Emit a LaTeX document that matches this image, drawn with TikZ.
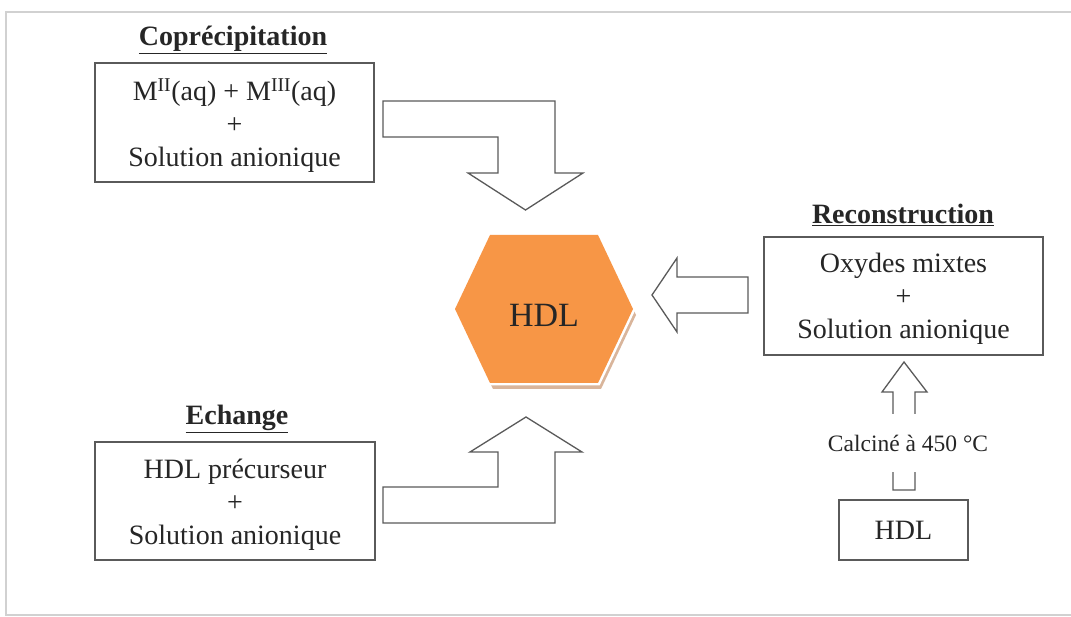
\documentclass[tikz,border=0pt]{standalone}
\usepackage{fontspec}
\setmainfont{Liberation Serif}
\definecolor{hexorange}{HTML}{F79646}
\definecolor{hexshadow}{HTML}{D9B59B}
\definecolor{linegray}{HTML}{5A5A5A}
\definecolor{txtgray}{HTML}{262626}
\begin{document}
\begin{tikzpicture}[x=1pt,y=-1pt,
  txt/.style={font=\fontsize{28}{33}\selectfont, text=txtgray, align=center},
  lbl/.style={font=\fontsize{28}{32}\selectfont\bfseries, text=txtgray},
  boxnode/.style={draw=linegray, line width=1.3pt, inner sep=0pt},
  blockarrow/.style={draw=linegray, line width=1.3pt, fill=white, line join=miter}
]
\useasboundingbox (0,0) rectangle (1071,617);
\fill[white] (0,0) rectangle (1071,617);
% outer frame
\draw[black!18, line width=1.5pt] (1075,12) -- (6,12) -- (6,615) -- (1075,615);

% labels
\node[lbl] (lcop) at (233,40) {\underline{Coprécipitation}};
\node[lbl] (lech) at (237,419) {\underline{Echange}};
\node[lbl] (lrec) at (903,215) {\underline{Reconstruction}};

% boxes
\node[boxnode, minimum width=279, minimum height=119] (bcop) at (234.5,122.5) {};
\node[txt] (tcop) at (234.5,126) {M\textsuperscript{II}(aq) + M\textsuperscript{III}(aq)\\+\\Solution anionique};
\node[boxnode, minimum width=280, minimum height=118] (bech) at (235,501) {};
\node[txt] (tech) at (235,505) {HDL précurseur\\+\\Solution anionique};
\node[boxnode, minimum width=279, minimum height=118] (brec) at (903.5,296) {};
\node[txt] (trec) at (903.5,299) {Oxydes mixtes\\+\\Solution anionique};
\node[boxnode, minimum width=129, minimum height=60, txt] (bhdl) at (903.5,530) {HDL};

% hexagon
\fill[hexshadow] (458,315) -- (493,241) -- (601,241) -- (636,315) -- (601,389) -- (493,389) -- cycle;
\draw[white, line width=5pt, line join=miter] (455,309) -- (490,235) -- (598,235) -- (633,309) -- (598,383) -- (490,383) -- cycle;
\fill[hexorange] (455,309) -- (490,235) -- (598,235) -- (633,309) -- (598,383) -- (490,383) -- cycle;
\node[font=\fontsize{34}{38}\selectfont, text=txtgray] (hex) at (544,315) {HDL};

% bent arrow down (coprecipitation)
\draw[blockarrow] (383,101) -- (555,101) -- (555,173) -- (583,173) -- (525.5,210) -- (468,173) -- (498,173) -- (498,137) -- (383,137) -- cycle;
% bent arrow up (echange)
\draw[blockarrow] (383,523) -- (555,523) -- (555,452) -- (582,452) -- (526,417) -- (470,452) -- (498,452) -- (498,487) -- (383,487) -- cycle;
% left arrow (reconstruction)
\draw[blockarrow] (652,295) -- (677,258) -- (677,277) -- (748,277) -- (748,313) -- (677,313) -- (677,332) -- cycle;
% up arrow (calcination)
\draw[blockarrow] (904,362) -- (927,392) -- (915,392) -- (915,490) -- (893,490) -- (893,392) -- (882,392) -- cycle;
\node[fill=white, inner xsep=2pt, minimum height=58, font=\fontsize{23.5}{26}\selectfont, text=txtgray] (calc) at (908,443) {Calciné à 450 °C};
\end{tikzpicture}
\end{document}
